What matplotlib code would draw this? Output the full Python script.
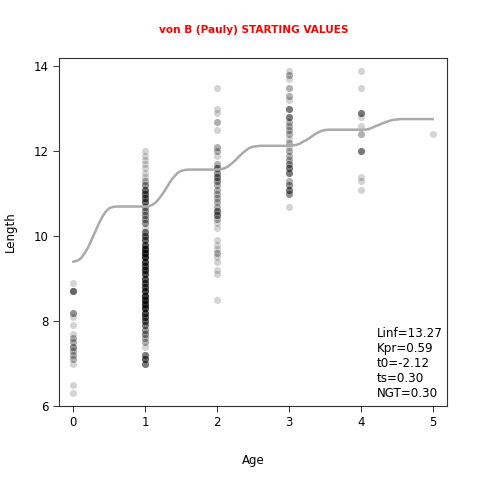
import numpy as np
import matplotlib
matplotlib.use("Agg")
from matplotlib import pyplot as plt

# length-at-age observations: lengths per age and how many fish at each length
len_age0 = [8.9, 8.7, 8.2, 8.1, 7.9, 7.7, 7.6, 7.5, 7.4, 7.3, 7.2, 7.1, 7.0, 6.5, 6.3]
cnt_age0 = [1, 5, 3, 1, 1, 1, 2, 2, 3, 2, 2, 2, 1, 1, 1]

len_age1 = [12.0, 11.9, 11.8, 11.7, 11.6, 11.5, 11.4, 11.3, 11.2, 11.1, 11.0, 10.9,
            10.8, 10.7, 10.6, 10.5, 10.4, 10.3, 10.2, 10.1, 10.0, 9.9, 9.8, 9.7,
            9.6, 9.5, 9.4, 9.3, 9.2, 9.1, 9.0, 8.9, 8.8, 8.7, 8.6, 8.5, 8.4, 8.3,
            8.2, 8.1, 8.0, 7.9, 7.8, 7.7, 7.6, 7.5, 7.4, 7.2, 7.1, 7.0]
cnt_age1 = [1, 1, 1, 1, 1, 1, 1, 2, 3, 5, 5, 5,
            5, 3, 3, 3, 3, 3, 1, 4, 5, 5, 6, 8,
            8, 8, 7, 6, 7, 6, 6, 6, 6, 7, 8, 8, 8, 8,
            7, 6, 5, 4, 3, 3, 2, 2, 1, 4, 5, 4]

len_age2 = [13.5, 13.0, 12.9, 12.7, 12.5, 12.1, 12.0, 11.9, 11.7, 11.6, 11.5, 11.4,
            11.3, 11.2, 11.1, 11.0, 10.9, 10.8, 10.7, 10.6, 10.5, 10.4, 10.3, 10.2,
            9.9, 9.8, 9.7, 9.6, 9.5, 9.4, 9.2, 9.1, 8.5]
cnt_age2 = [1, 1, 1, 2, 1, 2, 2, 1, 2, 4, 3, 4,
            3, 2, 2, 2, 2, 2, 2, 4, 4, 2, 1, 1,
            1, 1, 1, 2, 1, 1, 1, 1, 1]

len_age3 = [13.9, 13.8, 13.7, 13.5, 13.3, 13.2, 13.0, 12.8, 12.7, 12.6, 12.5, 12.4,
            12.3, 12.2, 12.1, 12.0, 11.9, 11.8, 11.7, 11.6, 11.5, 11.3, 11.2, 11.1,
            11.0, 10.7]
cnt_age3 = [1, 2, 1, 2, 2, 1, 4, 4, 2, 2, 2, 2,
            1, 2, 1, 2, 2, 2, 3, 4, 4, 2, 3, 4,
            3, 1]

len_age4 = [13.9, 13.5, 12.9, 12.8, 12.6, 12.4, 12.0, 11.4, 11.3, 11.1]
cnt_age4 = [1, 1, 4, 1, 1, 2, 4, 1, 1, 1]

len_age5 = [12.4]
cnt_age5 = [1]

# growth curve
curve_age = [0.00, 0.05, 0.10, 0.15, 0.20, 0.25, 0.30, 0.35, 0.40, 0.45, 0.50, 0.55, 0.60,
             1.00, 1.05, 1.10, 1.15, 1.20, 1.25, 1.30, 1.35, 1.40, 1.45, 1.50, 1.55, 1.60,
             2.00, 2.05, 2.10, 2.15, 2.20, 2.25, 2.30, 2.35, 2.40, 2.45, 2.50, 2.55, 2.60,
             3.00, 3.05, 3.10, 3.15, 3.20, 3.25, 3.30, 3.35, 3.40, 3.45, 3.50, 3.55, 3.60,
             4.00, 4.05, 4.10, 4.15, 4.20, 4.25, 4.30, 4.35, 4.40, 4.45, 4.50, 4.55, 4.60,
             5.00]
curve_len = [9.40, 9.42, 9.47, 9.58, 9.72, 9.90, 10.09, 10.28, 10.45, 10.58, 10.66, 10.69, 10.70,
             10.70, 10.71, 10.74, 10.80, 10.90, 11.02, 11.15, 11.29, 11.40, 11.49, 11.54, 11.56, 11.57,
             11.57, 11.58, 11.60, 11.64, 11.71, 11.78, 11.87, 11.95, 12.02, 12.08, 12.11, 12.12, 12.13,
             12.13, 12.14, 12.15, 12.18, 12.23, 12.27, 12.33, 12.39, 12.44, 12.48, 12.50, 12.51, 12.51,
             12.51, 12.51, 12.52, 12.55, 12.59, 12.62, 12.66, 12.69, 12.72, 12.74, 12.75, 12.76, 12.76,
             12.76]

params = ["Linf=13.27", "Kpr=0.59", "t0=-2.12", "ts=0.30", "NGT=0.30"]

all_len = [len_age0, len_age1, len_age2, len_age3, len_age4, len_age5]
all_cnt = [cnt_age0, cnt_age1, cnt_age2, cnt_age3, cnt_age4, cnt_age5]
ages = []
lengths = []
for age, (ll, cc) in enumerate(zip(all_len, all_cnt)):
    rep = np.repeat(ll, cc)
    lengths.extend(rep)
    ages.extend([age] * len(rep))

fig = plt.figure(figsize=(4.8, 4.8), dpi=100)
ax = fig.add_axes([0.1229, 0.1542, 0.8083, 0.725])

ax.scatter(ages, lengths, s=26, color="black", alpha=0.17, linewidths=0, zorder=2)
ax.plot(curve_age, curve_len, color="#aaaaaa", lw=1.8, zorder=3)

ax.set_xlim(-0.2, 5.2)
ax.set_ylim(6.0, 14.2)
ax.set_xticks(range(6))
ax.set_yticks([6, 8, 10, 12, 14])
ax.tick_params(labelsize=8.5, length=4, width=0.7, color="#333333")
for sp in ax.spines.values():
    sp.set_linewidth(0.8)
    sp.set_color("#333333")

ax.set_xlabel("Age", fontsize=8.5, labelpad=18)
ax.set_ylabel("Length", fontsize=8.5, labelpad=12)
fig.text(0.528, 0.937, "von B (Pauly) STARTING VALUES", color="red",
         fontsize=7.6, fontweight="bold", ha="center", va="center")

for i, s in enumerate(params):
    ax.text(0.8196, 0.207 - i * 0.0431, s, transform=ax.transAxes,
            fontsize=8.6, ha="left", va="center")

fig.savefig("out.png", dpi=100)
